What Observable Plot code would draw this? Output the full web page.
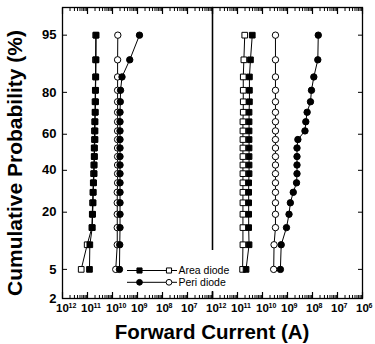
<!DOCTYPE html>
<html><head><meta charset="utf-8">
<script src="https://cdn.jsdelivr.net/npm/d3@7"></script>
<script src="https://cdn.jsdelivr.net/npm/@observablehq/plot@0.6"></script>
<style>html,body{margin:0;padding:0;background:#fff}</style>
</head><body><div id="chart"></div>
<script>
// Cumulative probability (%) of each sample rank
const cumProb = [5, 9.7, 14.5, 19.2, 23.9, 28.7, 33.4, 38.2, 42.9, 47.6, 52.4, 57.1, 61.8, 66.6, 71.3, 76.1, 80.8, 85.5, 90.3, 95];

// Left panel forward currents (A)
const areaFilledL = [1.2e-11, 1.24e-11, 1.55e-11, 1.6e-11, 1.68e-11, 1.7e-11, 1.75e-11, 1.85e-11, 1.85e-11, 1.9e-11, 1.9e-11, 2.0e-11, 2.0e-11, 2.0e-11, 2.05e-11, 2.1e-11, 2.1e-11, 2.15e-11, 2.2e-11, 2.2e-11];
const areaOpenL   = [5.6e-12, 9.7e-12, 1.5e-11, 1.55e-11, 1.6e-11, 1.65e-11, 1.7e-11, 1.75e-11, 1.8e-11, 1.85e-11, 1.85e-11, 1.9e-11, 1.9e-11, 1.95e-11, 2.0e-11, 2.0e-11, 2.05e-11, 2.1e-11, 2.1e-11, 2.15e-11];
const periFilledL = [1.9e-10, 1.95e-10, 2.0e-10, 2.0e-10, 2.0e-10, 2.0e-10, 2.0e-10, 2.0e-10, 2.0e-10, 2.0e-10, 2.0e-10, 2.0e-10, 2.0e-10, 2.0e-10, 2.0e-10, 2.05e-10, 2.1e-10, 2.4e-10, 4.9e-10, 1.2e-9];
const periOpenL   = [1.35e-10, 1.55e-10, 1.55e-10, 1.55e-10, 1.55e-10, 1.55e-10, 1.6e-10, 1.6e-10, 1.6e-10, 1.6e-10, 1.6e-10, 1.6e-10, 1.6e-10, 1.6e-10, 1.6e-10, 1.6e-10, 1.6e-10, 1.6e-10, 1.6e-10, 1.63e-10];

// Right panel forward currents (A)
const areaFilledR = [2.2e-11, 2.9e-11, 2.8e-11, 2.8e-11, 2.8e-11, 2.8e-11, 2.8e-11, 2.9e-11, 2.9e-11, 2.9e-11, 2.9e-11, 2.9e-11, 2.9e-11, 2.9e-11, 2.9e-11, 3.0e-11, 3.0e-11, 3.0e-11, 3.3e-11, 3.9e-11];
const areaOpenR   = [1.6e-11, 1.65e-11, 1.65e-11, 1.65e-11, 1.65e-11, 1.65e-11, 1.65e-11, 1.65e-11, 1.65e-11, 1.65e-11, 1.65e-11, 1.65e-11, 1.65e-11, 1.65e-11, 1.7e-11, 1.7e-11, 1.7e-11, 1.7e-11, 1.8e-11, 1.95e-11];
const periFilledR = [5.2e-10, 5.6e-10, 9.1e-10, 1.15e-9, 1.3e-9, 1.7e-9, 2.3e-9, 2.4e-9, 2.4e-9, 2.4e-9, 2.4e-9, 2.6e-9, 5.0e-9, 5.4e-9, 6.1e-9, 8.3e-9, 9.1e-9, 1.13e-8, 1.63e-8, 1.7e-8];
const periOpenR   = [2.8e-10, 2.9e-10, 3.3e-10, 3.3e-10, 3.3e-10, 3.3e-10, 3.3e-10, 3.3e-10, 3.3e-10, 3.3e-10, 3.3e-10, 3.3e-10, 3.3e-10, 3.3e-10, 3.3e-10, 3.3e-10, 3.3e-10, 3.3e-10, 3.3e-10, 3.3e-10];

// Tick labels
const yTickLabels = [2, 5, 20, 40, 60, 80, 95];
const xTickValsL = [1e-12, 1e-11, 1e-10, 1e-9, 1e-8, 1e-7];
const xTickExpL  = ["12", "11", "10", "9", "8", "7"];
const xTickValsR = [1e-12, 1e-11, 1e-10, 1e-9, 1e-8, 1e-7, 1e-6];
const xTickExpR  = ["12", "11", "10", "9", "8", "7", "6"];
const legendLabels = ["Area diode", "Peri diode"];

// inverse normal CDF (probability scale)
function probit(p) {
  const a=[-3.969683028665376e+01,2.209460984245205e+02,-2.759285104469687e+02,1.383577518672690e+02,-3.066479806614716e+01,2.506628277459239e+00];
  const b=[-5.447609879822406e+01,1.615858368580409e+02,-1.556989798598866e+02,6.680131188771972e+01,-1.328068155288572e+01];
  const c=[-7.784894002430293e-03,-3.223964580411365e-01,-2.400758277161838e+00,-2.549732539343734e+00,4.374664141464968e+00,2.938163982698783e+00];
  const d=[7.784695709041462e-03,3.224671290700398e-01,2.445134137142996e+00,3.754408661907416e+00];
  const pl=0.02425, ph=1-pl; let q, r;
  if (p < pl) { q=Math.sqrt(-2*Math.log(p)); return (((((c[0]*q+c[1])*q+c[2])*q+c[3])*q+c[4])*q+c[5])/((((d[0]*q+d[1])*q+d[2])*q+d[3])*q+1); }
  if (p <= ph) { q=p-0.5; r=q*q; return (((((a[0]*r+a[1])*r+a[2])*r+a[3])*r+a[4])*r+a[5])*q/(((((b[0]*r+b[1])*r+b[2])*r+b[3])*r+b[4])*r+1); }
  q=Math.sqrt(-2*Math.log(1-p)); return -(((((c[0]*q+c[1])*q+c[2])*q+c[3])*q+c[4])*q+c[5])/((((d[0]*q+d[1])*q+d[2])*q+d[3])*q+1);
}
const pz = pct => probit(pct / 100);

const seriesDefs = [
  {panel: "L", kind: "area", filled: false, values: areaOpenL},
  {panel: "L", kind: "area", filled: true,  values: areaFilledL},
  {panel: "L", kind: "peri", filled: false, values: periOpenL},
  {panel: "L", kind: "peri", filled: true,  values: periFilledL},
  {panel: "R", kind: "area", filled: false, values: areaOpenR},
  {panel: "R", kind: "area", filled: true,  values: areaFilledR},
  {panel: "R", kind: "peri", filled: false, values: periOpenR},
  {panel: "R", kind: "peri", filled: true,  values: periFilledR}
];
const rows = seriesDefs.flatMap(s => s.values.map((v, i) => ({
  panel: s.panel, kind: s.kind, filled: s.filled, key: s.panel + s.kind + s.filled, p: cumProb[i], v
})));

const xTickRows = [
  ...xTickValsL.map((v, i) => ({panel: "L", v, exp: xTickExpL[i]})),
  ...xTickValsR.map((v, i) => ({panel: "R", v, exp: xTickExpR[i]}))
];
const majorTicks = xTickValsR;
const minorTicks = d3.range(-12, -6).flatMap(e => d3.range(2, 10).map(m => m * Math.pow(10, e)));
const yTickZ = yTickLabels.map(pz);
const yLabelOf = z => yTickLabels[d3.minIndex(yTickZ, t => Math.abs(t - z))];

const font = "'Liberation Sans', Arial, Helvetica, sans-serif";
const sq = d => d.kind === "area" ? "square" : "circle";
const noText = () => "";

const chart = Plot.plot({
  width: 375, height: 344,
  marginLeft: 62, marginRight: 13, marginTop: 7, marginBottom: 46,
  style: {fontFamily: font, fontWeight: "bold", color: "black", background: "white"},
  fx: {domain: ["L", "R"], padding: 0, axis: null},
  x: {type: "log", domain: [1e-12, 1e-6], axis: null},
  y: {domain: [pz(2), pz(97.9)], axis: null},
  symbol: {domain: ["square", "circle"], range: ["square", "circle"]},
  marks: [
    Plot.frame({stroke: "black", strokeWidth: 1.3}),
    Plot.axisX(majorTicks, {anchor: "bottom", tickSize: -6, tickFormat: noText, label: null, strokeWidth: 1.2}),
    Plot.axisX(minorTicks, {anchor: "bottom", tickSize: -3, tickFormat: noText, label: null}),
    Plot.axisX(majorTicks, {anchor: "top", tickSize: -6, tickFormat: noText, label: null, strokeWidth: 1.2}),
    Plot.axisX(minorTicks, {anchor: "top", tickSize: -3, tickFormat: noText, label: null}),
    Plot.axisY(yTickZ, {anchor: "left", tickSize: -5, tickFormat: noText, label: null}),
    Plot.axisY(yTickZ, {anchor: "right", tickSize: -5, tickFormat: noText, label: null}),
    Plot.axisY(yTickZ, {anchor: "left", tickSize: 0, tickPadding: 6, tickFormat: yLabelOf, label: null, fontSize: 13, fontWeight: "bold"}),
    Plot.text(xTickRows, {x: "v", fx: "panel", frameAnchor: "bottom", dy: 13, text: () => "10", fontSize: 11.5, fontWeight: "bold", fill: "black"}),
    Plot.text(xTickRows, {x: "v", fx: "panel", frameAnchor: "bottom", dy: 9, dx: 6, text: "exp", textAnchor: "start", fontSize: 7, fontWeight: "bold", fill: "black"}),
    Plot.line(rows, {x: "v", y: d => pz(d.p), z: "key", fx: "panel", stroke: "black", strokeWidth: 1}),
    Plot.dot(rows.filter(d => !d.filled), {x: "v", y: d => pz(d.p), fx: "panel", symbol: sq, r: 3.2, fill: "white", stroke: "black", strokeWidth: 1}),
    Plot.dot(rows.filter(d => d.filled), {x: "v", y: d => pz(d.p), fx: "panel", symbol: sq, r: 3.2, fill: "black", stroke: "black", strokeWidth: 1})
  ]
});
document.getElementById("chart").appendChild(chart);

// Titles and legend
const svg = d3.select(chart.tagName.toLowerCase() === "svg" ? chart : chart.querySelector("svg"));
svg.append("text").attr("x", 212).attr("y", 339).attr("text-anchor", "middle")
  .attr("font-family", font).attr("font-weight", "bold").attr("font-size", 20.5).attr("fill", "black")
  .text("Forward Current (A)");
svg.append("text").attr("transform", "translate(22,163) rotate(-90)").attr("text-anchor", "middle")
  .attr("font-family", font).attr("font-weight", "bold").attr("font-size", 21).attr("fill", "black")
  .text("Cumulative Probability (%)");

const lg = svg.append("g");
lg.append("rect").attr("x", 124).attr("y", 250).attr("width", 112).attr("height", 41).attr("fill", "white");
const legendSyms = [d3.symbolSquare, d3.symbolCircle];
legendLabels.forEach((lab, i) => {
  const y = 270.5 + i * 11.8;
  lg.append("line").attr("x1", 127).attr("x2", 177).attr("y1", y).attr("y2", y).attr("stroke", "black").attr("stroke-width", 1);
  lg.append("path").attr("d", d3.symbol(legendSyms[i], 26)()).attr("transform", `translate(139.5,${y})`).attr("fill", "black").attr("stroke", "black");
  lg.append("path").attr("d", d3.symbol(legendSyms[i], 26)()).attr("transform", `translate(169,${y})`).attr("fill", "white").attr("stroke", "black");
  lg.append("text").attr("x", 178.5).attr("y", y).attr("dy", "0.35em").attr("text-anchor", "start").attr("font-family", font)
    .attr("font-weight", "normal").attr("font-size", 10.5).attr("fill", "black").text(lab);
});
</script>
</body></html>
